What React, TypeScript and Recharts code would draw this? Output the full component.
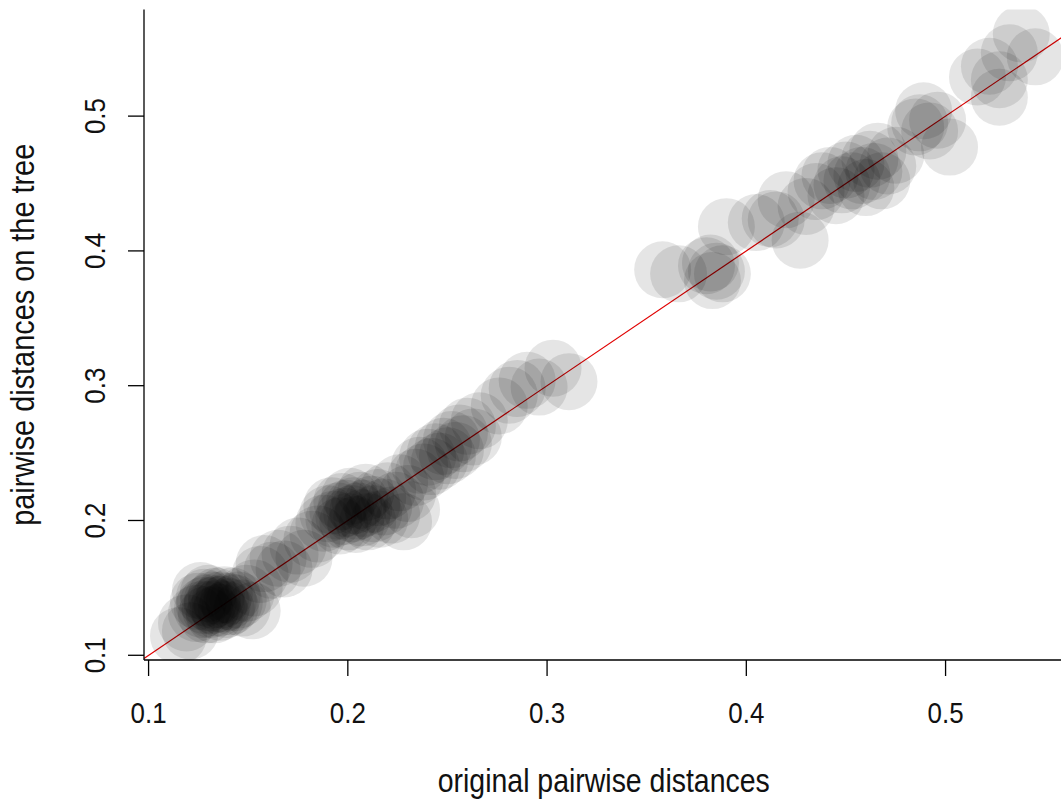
import { ScatterChart, Scatter, XAxis, YAxis, ReferenceLine, Label } from 'recharts';

// original pairwise distances (x) and distances on the tree (y)
const originalDist = [
    0.115, 0.119, 0.121,
    0.124, 0.125, 0.126, 0.127, 0.128, 0.128, 0.129, 0.130, 0.130, 0.131, 0.132, 0.132, 0.133, 0.134,
    0.134, 0.135, 0.136, 0.136, 0.137, 0.138, 0.139, 0.140, 0.141, 0.142, 0.143, 0.145, 0.147, 0.149,
    0.152, 0.153,
    0.156, 0.158, 0.162, 0.165, 0.168, 0.171, 0.175, 0.178, 0.182, 0.185,
    0.188, 0.190, 0.192, 0.193, 0.195, 0.196, 0.197, 0.198, 0.199, 0.200, 0.201, 0.202, 0.203, 0.204,
    0.205, 0.206, 0.207, 0.208, 0.209, 0.210, 0.212, 0.213, 0.215, 0.216, 0.218, 0.220, 0.222, 0.224,
    0.226, 0.228, 0.230, 0.232,
    0.234, 0.236, 0.238, 0.240, 0.242, 0.244, 0.246, 0.248, 0.250, 0.252, 0.254, 0.256, 0.258, 0.260,
    0.263, 0.266,
    0.276, 0.281, 0.285, 0.290, 0.296, 0.303, 0.311,
    0.358, 0.366, 0.380, 0.382, 0.383, 0.385, 0.388, 0.390,
    0.405, 0.412, 0.415, 0.420, 0.427, 0.430,
    0.435, 0.438, 0.442, 0.445, 0.448, 0.450, 0.453, 0.455, 0.458, 0.460, 0.462, 0.464, 0.466, 0.468,
    0.471, 0.475,
    0.485, 0.487, 0.489, 0.492, 0.496, 0.502,
    0.516, 0.522, 0.527, 0.527, 0.532, 0.538, 0.545,
];
const treeDist = [
    0.1145, 0.124, 0.118,
    0.131, 0.140, 0.148, 0.134, 0.137, 0.143, 0.130, 0.139, 0.146, 0.134, 0.141, 0.137, 0.130, 0.144,
    0.138, 0.135, 0.141, 0.132, 0.138, 0.145, 0.134, 0.140, 0.136, 0.144, 0.139, 0.141, 0.135, 0.146,
    0.133, 0.150,
    0.160, 0.168, 0.163, 0.172, 0.164, 0.175, 0.181, 0.172, 0.186, 0.190,
    0.198, 0.205, 0.211, 0.201, 0.207, 0.196, 0.214, 0.203, 0.209, 0.199, 0.218, 0.205, 0.211, 0.197,
    0.207, 0.215, 0.202, 0.209, 0.221, 0.199, 0.212, 0.205, 0.217, 0.201, 0.210, 0.222, 0.204, 0.215,
    0.228, 0.199, 0.220, 0.208,
    0.232, 0.241, 0.236, 0.247, 0.240, 0.251, 0.244, 0.255, 0.248, 0.260, 0.252, 0.265, 0.257, 0.270,
    0.262, 0.274,
    0.285, 0.293, 0.298, 0.304, 0.299, 0.313, 0.303,
    0.386, 0.383, 0.389, 0.391, 0.378, 0.385, 0.383, 0.418,
    0.421, 0.424, 0.423, 0.438, 0.408, 0.433,
    0.444, 0.452, 0.456, 0.441, 0.449, 0.460, 0.452, 0.465, 0.456, 0.447, 0.468, 0.459, 0.474, 0.452,
    0.463, 0.471,
    0.492, 0.495, 0.504, 0.489, 0.497, 0.477,
    0.529, 0.537, 0.514, 0.527, 0.547, 0.561, 0.544,
];
const axisTicks = [0.1, 0.2, 0.3, 0.4, 0.5];
const xDomain = [0.0977, 0.5622];
const yDomain = [0.0965, 0.5791];

const data = originalDist.map((x, i) => ({ x, y: treeDist[i] }));

const FONT = "'Liberation Sans', Arial, sans-serif";

const Blob = (props: any) => (
    <circle cx={props.cx} cy={props.cy} r={28.5} fill="rgba(0,0,0,0.1)" />
);

// the original labels use a narrow face, so squeeze them with textLength
const XTick = (props: any) => (
    <text
        x={props.x}
        y={props.y}
        textAnchor="middle"
        fontFamily={FONT}
        fontSize={30}
        fill="#111"
        textLength={36}
        lengthAdjust="spacingAndGlyphs"
    >
        {props.payload.value}
    </text>
);

const YTick = (props: any) => (
    <text
        x={props.x}
        y={props.y}
        transform={`rotate(-90, ${props.x}, ${props.y})`}
        textAnchor="middle"
        fontFamily={FONT}
        fontSize={30}
        fill="#111"
        textLength={36}
        lengthAdjust="spacingAndGlyphs"
    >
        {props.payload.value}
    </text>
);

export default function App() {
    return (
        <div style={{ position: 'fixed', left: 0, top: 0, width: 1061, height: 803, overflow: 'hidden', background: '#fff' }}>
            <ScatterChart width={1100} height={803} margin={{ top: 9.5, right: 30.5, bottom: 0, left: 0 }}>
                <XAxis
                    xAxisId="top"
                    orientation="top"
                    type="number"
                    dataKey="x"
                    domain={xDomain}
                    allowDataOverflow
                    height={0}
                    tick={false}
                    tickLine={false}
                    axisLine={{ stroke: '#000', strokeWidth: 1.3 }}
                />
                <XAxis
                    type="number"
                    dataKey="x"
                    domain={xDomain}
                    ticks={axisTicks}
                    allowDataOverflow
                    height={143}
                    tickSize={16}
                    tickMargin={47}
                    tick={<XTick />}
                    tickLine={{ stroke: '#000', strokeWidth: 1.3 }}
                    axisLine={{ stroke: '#000', strokeWidth: 1.3 }}
                >
                    <Label
                        content={(p: any) => (
                            <text
                                x={p.viewBox.x + p.viewBox.width / 2 - 3}
                                y={p.viewBox.y + 132}
                                textAnchor="middle"
                                fontFamily={FONT}
                                fontSize={34}
                                fill="#111"
                                textLength={332}
                                lengthAdjust="spacingAndGlyphs"
                            >
                                original pairwise distances
                            </text>
                        )}
                    />
                </XAxis>
                <YAxis
                    type="number"
                    dataKey="y"
                    domain={yDomain}
                    ticks={axisTicks}
                    allowDataOverflow
                    width={144}
                    tickSize={16}
                    tickMargin={23}
                    tick={<YTick />}
                    tickLine={{ stroke: '#000', strokeWidth: 1.3 }}
                    axisLine={{ stroke: '#000', strokeWidth: 1.3 }}
                >
                    <Label
                        content={(p: any) => {
                            const cy = p.viewBox.y + p.viewBox.height / 2;
                            return (
                                <text
                                    x={34}
                                    y={cy}
                                    transform={`rotate(-90, 34, ${cy})`}
                                    textAnchor="middle"
                                    fontFamily={FONT}
                                    fontSize={34}
                                    fill="#111"
                                    textLength={382}
                                    lengthAdjust="spacingAndGlyphs"
                                >
                                    pairwise distances on the tree
                                </text>
                            );
                        }}
                    />
                </YAxis>
                <Scatter data={data} shape={<Blob />} isAnimationActive={false} />
                <ReferenceLine
                    segment={[{ x: xDomain[0], y: xDomain[0] }, { x: xDomain[1], y: xDomain[1] }]}
                    stroke="#e00000"
                    strokeWidth={1.2}
                    ifOverflow="visible"
                />
            </ScatterChart>
        </div>
    );
}
